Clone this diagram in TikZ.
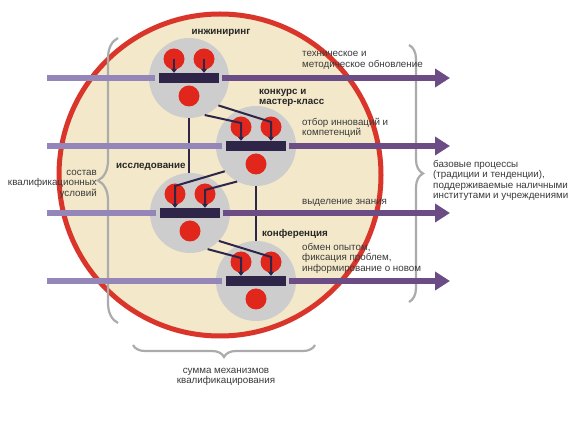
\documentclass[tikz,border=0pt]{standalone}
\usepackage{fontspec}
\setmainfont{Liberation Sans}
\usetikzlibrary{arrows.meta,decorations.pathreplacing}

\definecolor{discfill}{HTML}{F3E8C9}
\definecolor{discrim}{HTML}{D9352A}
\definecolor{hubgray}{HTML}{CDCDCD}
\definecolor{dotred}{HTML}{E1261C}
\definecolor{barnavy}{HTML}{2E2549}
\definecolor{flowin}{HTML}{9486B8}
\definecolor{flowout}{HTML}{6B4C84}
\definecolor{bracegray}{HTML}{ABABAB}
\definecolor{txt}{HTML}{3A3A3A}

\begin{document}
\begin{tikzpicture}[x=1pt,y=-1pt,
  hub/.style={circle, fill=hubgray, minimum size=80pt, inner sep=0pt},
  bar/.style={rectangle, fill=barnavy, minimum width=60pt, minimum height=10pt, inner sep=0pt},
  dot/.style={circle, fill=dotred, minimum size=21pt, inner sep=0pt},
  link/.style={barnavy, line width=2.4pt},
  drop/.style={barnavy, line width=2pt, -{Triangle[length=4pt,width=6pt]}},
  feed/.style={flowin, line width=5.5pt},
  flow/.style={flowout, line width=5.5pt, -{Triangle[length=15pt,width=18pt]}},
  bracket/.style={bracegray, line width=2.2pt, decorate, decoration={brace, amplitude=#1}},
  lbl/.style={font=\fontsize{9.8}{10.5}\selectfont, text=txt, inner sep=0pt, align=left},
  head/.style={font=\fontsize{9.8}{10.5}\selectfont\bfseries, text=black!85, inner sep=0pt, align=left}]
% Canvas
\fill[white] (0,0) rectangle (576,438);
\useasboundingbox (0,0) rectangle (576,438);
% Big disc
\node[circle, draw=discrim, fill=discfill, line width=5pt, minimum size=322pt, inner sep=0pt] (disc) at (220,175) {};
% Gray braces
\draw[bracket=20] (118,323) -- (118,38);
\draw[bracket=14] (409,45) -- (409,302);
\draw[bracket=12] (315,345) -- (133,345);
% Mechanism hubs
\foreach \i/\x/\y in {1/189/78, 2/256/146, 3/190/213, 4/256/281} {
    \node[hub] (g\i) at (\x,\y) {};
    \coordinate (src\i) at (47,\y);
    \coordinate (dst\i) at (450,\y);
}
% Vertical links between hubs
\draw[link] (g1.south) -- (g1.south |- g3.north);
\draw[link] (g2.south) -- (g2.south |- g4.north);
% Process lines, bars and dots
\foreach \i in {1,...,4} {
    \node[bar] (b\i) at (g\i) {};
    \draw[feed] (src\i) -- ([xshift=-4pt]b\i.west);
    \draw[flow] ([xshift=3pt]b\i.east) -- (dst\i);
    \node[dot] (ra\i) at ([shift={(-15,-19)}]g\i.center) {};
    \node[dot] (rb\i) at ([shift={(15,-19)}]g\i.center) {};
    \node[dot] (rc\i) at ([shift={(0,18)}]g\i.center) {};
}
% Drops into the bars
\draw[drop] (ra1.center) -- (ra1.center |- b1.north);
\draw[drop] (rb1.center) -- (rb1.center |- b1.north);
\draw[drop] (g1.-43) -- ([yshift=5pt]rb2.center) -- (rb2.center |- b2.north);
\draw[drop] (g1.-67) -- ([yshift=4pt]ra2.center) -- (ra2.center |- b2.north);
\draw[drop] (g2.-141) -- ([yshift=8pt]ra3.center) -- (ra3.center |- b3.north);
\draw[drop] (g2.-118) -- ([yshift=4pt]rb3.center) -- (rb3.center |- b3.north);
\draw[drop] (g3.-44) -- ([yshift=5pt]rb4.center) -- (rb4.center |- b4.north);
\draw[drop] (g3.-64) -- ([yshift=4pt]ra4.center) -- (ra4.center |- b4.north);
% Mechanism names
\node[head] (tEng) at (221,33) {инжиниринг};
\node[head, anchor=west] (tCont) at (259,98) {конкурс и\\мастер-класс};
\node[head, anchor=west] (tRes) at (116,167) {исследование};
\node[head, anchor=west] (tConf) at (262,234) {конференция};
% Process descriptions
\node[lbl, anchor=west] (tRenew) at (302,60.5) {техническое и\\методическое обновление};
\node[lbl, anchor=west] (tSel) at (302,128) {отбор инноваций и\\компетенций};
\node[lbl, anchor=west] (tKnow) at (302,203) {выделение знания};
\node[lbl, anchor=west] (tExch) at (302,258) {обмен опытом,\\фиксация проблем,\\информирование о новом};
% Brace captions
\node[lbl, anchor=east, align=right] (tCond) at (97,184) {состав\\квалификационных\\условий};
\node[lbl, anchor=west] (tBase) at (433,180.5) {базовые процессы\\(традиции и тенденции),\\поддерживаемые наличными\\институтами и учреждениями};
\node[lbl, anchor=north, align=center] (tSum) at (226,368) {сумма механизмов\\квалификацирования};
\end{tikzpicture}
\end{document}
